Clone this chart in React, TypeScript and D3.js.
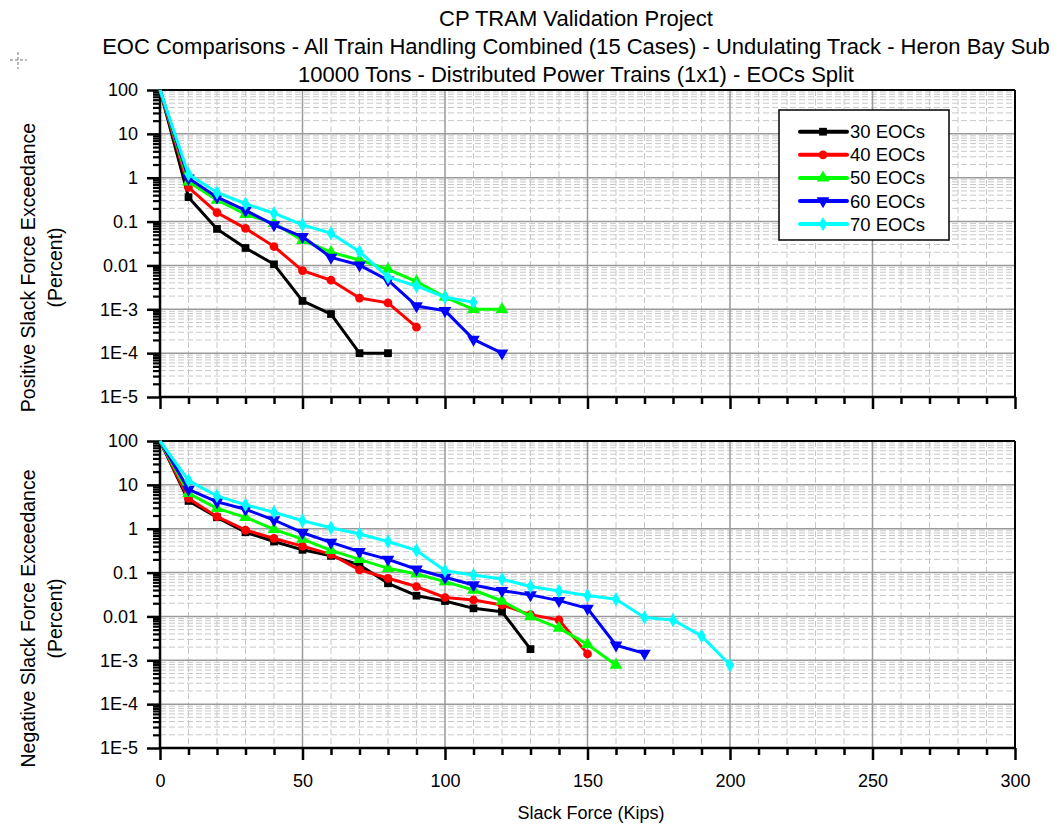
import * as d3 from "d3";
import React, { useRef, useEffect } from "react";

const width = 1059;
const height = 826;
const plotLeft = 160;
const plotRight = 1015;
const panels = [
  { top: 90, bottom: 397, label: "Positive Slack Force Exceedance" },
  { top: 441, bottom: 748, label: "Negative Slack Force Exceedance" },
];

const titleLines = [
  "CP TRAM Validation Project",
  "EOC Comparisons - All Train Handling Combined (15 Cases) - Undulating Track - Heron Bay Sub",
  "10000 Tons - Distributed Power Trains (1x1) - EOCs Split",
];

// slack force in kips, one value every 10 kips starting at 0
const kips = d3.range(0, 210, 10);

const seriesNames = ["30 EOCs", "40 EOCs", "50 EOCs", "60 EOCs", "70 EOCs"];
const seriesColors = ["#000000", "#ff0000", "#00ff00", "#0000ff", "#00ffff"];

// positive slack force exceedance (percent)
const pos30 = [100, 0.36, 0.068, 0.025, 0.0106, 0.00155, 0.00078, 0.0001, 0.0001];
const pos40 = [100, 0.6, 0.16, 0.07, 0.027, 0.0076, 0.0046, 0.0018, 0.0014, 0.00039];
const pos50 = [100, 0.81, 0.31, 0.147, 0.091, 0.0375, 0.02, 0.0133, 0.0081, 0.0043, 0.0019, 0.001, 0.001];
const pos60 = [100, 0.97, 0.36, 0.18, 0.084, 0.045, 0.0153, 0.0102, 0.0046, 0.00119, 0.00093, 0.000206, 0.0001];
const pos70 = [100, 1.2, 0.46, 0.255, 0.155, 0.084, 0.054, 0.0206, 0.0054, 0.0034, 0.00188, 0.00144];

// negative slack force exceedance (percent)
const neg30 = [100, 4.3, 1.82, 0.83, 0.51, 0.33, 0.24, 0.149, 0.057, 0.0297, 0.0225, 0.0153, 0.0128, 0.0018];
const neg40 = [100, 4.9, 1.88, 0.93, 0.6, 0.4, 0.26, 0.115, 0.074, 0.048, 0.027, 0.0237, 0.0182, 0.011, 0.0083, 0.0014];
const neg50 = [100, 6.4, 2.9, 1.82, 0.97, 0.58, 0.32, 0.2, 0.125, 0.093, 0.062, 0.04, 0.0225, 0.0099, 0.0054, 0.0023, 0.00078];
const neg60 = [100, 7.9, 4.1, 2.77, 1.58, 0.81, 0.49, 0.3, 0.2, 0.119, 0.078, 0.052, 0.0386, 0.031, 0.0229, 0.0153, 0.0022, 0.00144];
const neg70 = [100, 12.5, 5.6, 3.5, 2.37, 1.52, 1.05, 0.76, 0.51, 0.32, 0.11, 0.088, 0.071, 0.048, 0.038, 0.03, 0.0246, 0.0095, 0.0083, 0.0036, 0.00078];

const panelData = [
  [pos30, pos40, pos50, pos60, pos70],
  [neg30, neg40, neg50, neg60, neg70],
];

const yTicks = [100, 10, 1, 0.1, 0.01, 1e-3, 1e-4, 1e-5];
const yTickLabels = ["100", "10", "1", "0.1", "0.01", "1E-3", "1E-4", "1E-5"];
const xTicks = [0, 50, 100, 150, 200, 250, 300];

const fontFamily = "'Liberation Sans', Arial, sans-serif";

const symbolFor = (i) => {
  const types = [d3.symbolSquare, d3.symbolCircle, d3.symbolTriangle, d3.symbolTriangle, d3.symbolDiamond];
  const sizes = [60, 60, 70, 70, 60];
  return d3.symbol().type(types[i]).size(sizes[i])();
};
const symbolRotate = (i) => (i === 3 ? 180 : 0);

const x = d3.scaleLinear().domain([0, 300]).range([plotLeft, plotRight]);

const Panel = ({ index }) => {
  const p = panels[index];
  const y = d3.scaleLog().domain([1e-5, 100]).range([p.bottom, p.top]);
  const xAxisRef = useRef(null);
  const xMinorRef = useRef(null);
  const yAxisRef = useRef(null);
  const yMinorRef = useRef(null);

  const minorY = [];
  for (let e = -5; e < 2; e++) for (let m = 2; m <= 9; m++) minorY.push(m * Math.pow(10, e));
  const minorX = d3.range(10, 300, 10).filter((v) => v % 50 !== 0);

  useEffect(() => {
    const xAxis = d3.axisBottom(x).tickValues(xTicks).tickSize(12).tickFormat(index === 1 ? d3.format("d") : () => "");
    d3.select(xAxisRef.current)
      .call(xAxis)
      .call((g) => g.select(".domain").remove())
      .call((g) => g.selectAll("line").attr("stroke-width", 2.5))
      .call((g) =>
        g.selectAll("text").attr("font-size", 18).attr("font-family", fontFamily).attr("dy", "1.35em").attr("fill", "#000")
      );
    d3.select(xMinorRef.current)
      .call(d3.axisBottom(x).tickValues(minorX).tickSize(7).tickFormat(() => ""))
      .call((g) => g.select(".domain").remove())
      .call((g) => g.selectAll("line").attr("stroke-width", 2.5));
    const yAxis = d3
      .axisLeft(y)
      .tickValues(yTicks)
      .tickSize(13)
      .tickFormat((d, i) => yTickLabels[i]);
    d3.select(yAxisRef.current)
      .call(yAxis)
      .call((g) => g.select(".domain").remove())
      .call((g) => g.selectAll("line").attr("stroke-width", 2.5))
      .call((g) => g.selectAll("text").attr("font-size", 18).attr("font-family", fontFamily).attr("x", -22).attr("fill", "#000"));
    d3.select(yMinorRef.current)
      .call(d3.axisLeft(y).tickValues(minorY).tickSize(7).tickFormat(() => ""))
      .call((g) => g.select(".domain").remove())
      .call((g) => g.selectAll("line").attr("stroke-width", 2.2));
  }, [index]);

  const line = d3
    .line()
    .x((d) => x(d[0]))
    .y((d) => y(d[1]));

  return (
    <g>
      {/* minor grid */}
      {minorY.map((v) => (
        <line key={"my" + v} x1={plotLeft} x2={plotRight} y1={y(v)} y2={y(v)} stroke="#c8c8c8" strokeWidth={1} strokeDasharray="6,3" />
      ))}
      {minorX.map((v) => (
        <line key={"mx" + v} x1={x(v)} x2={x(v)} y1={p.top} y2={p.bottom} stroke="#c8c8c8" strokeWidth={1} strokeDasharray="6,3" />
      ))}
      {/* major grid */}
      {yTicks.slice(1, -1).map((v) => (
        <line key={"gy" + v} x1={plotLeft} x2={plotRight} y1={y(v)} y2={y(v)} stroke="#9a9a9a" strokeWidth={1.5} />
      ))}
      {xTicks.slice(1, -1).map((v) => (
        <line key={"gx" + v} x1={x(v)} x2={x(v)} y1={p.top} y2={p.bottom} stroke="#9a9a9a" strokeWidth={1.5} />
      ))}
      {/* frame */}
      <line x1={plotLeft} x2={plotRight} y1={p.top} y2={p.top} stroke="#000" strokeWidth={2} />
      <line x1={plotRight} x2={plotRight} y1={p.top} y2={p.bottom} stroke="#000" strokeWidth={2} />
      <line x1={plotLeft} x2={plotRight} y1={p.bottom} y2={p.bottom} stroke="#000" strokeWidth={2.5} />
      <line x1={plotLeft} x2={plotLeft} y1={p.top} y2={p.bottom} stroke="#000" strokeWidth={2.5} />
      <g ref={xMinorRef} transform={`translate(0, ${p.bottom})`} />
      <g ref={xAxisRef} transform={`translate(0, ${p.bottom})`} />
      <g ref={yMinorRef} transform={`translate(${plotLeft}, 0)`} />
      <g ref={yAxisRef} transform={`translate(${plotLeft}, 0)`} />
      {/* series */}
      {panelData[index].map((vals, si) => {
        const pts = vals.map((v, k) => [kips[k], v]);
        return (
          <g key={si}>
            <path d={line(pts)} fill="none" stroke={seriesColors[si]} strokeWidth={3} strokeLinejoin="round" />
            {pts.slice(1).map((d, k) => (
              <path
                key={k}
                d={symbolFor(si)}
                fill={seriesColors[si]}
                transform={`translate(${x(d[0])}, ${y(d[1])}) rotate(${symbolRotate(si)})`}
              />
            ))}
          </g>
        );
      })}
      {/* y axis title */}
      <g transform={`translate(28, ${(p.top + p.bottom) / 2 + 24}) rotate(-90)`}>
        <text textAnchor="middle" dominantBaseline="central" fontSize={19.5} fontFamily={fontFamily}>
          {p.label}
        </text>
        <text y={27} textAnchor="middle" dominantBaseline="central" fontSize={19.5} fontFamily={fontFamily}>
          (Percent)
        </text>
      </g>
    </g>
  );
};

const Legend = () => {
  const lx = 779;
  const ly = 110;
  return (
    <g>
      <rect x={lx} y={ly} width={170} height={130} fill="#fff" stroke="#000" strokeWidth={1.5} />
      {seriesNames.map((name, i) => {
        const cy = ly + 21.7 + i * 23.1;
        return (
          <g key={name}>
            <line x1={lx + 21} x2={lx + 68} y1={cy} y2={cy} stroke={seriesColors[i]} strokeWidth={4} strokeLinecap="round" />
            <path d={symbolFor(i)} fill={seriesColors[i]} transform={`translate(${lx + 44}, ${cy}) rotate(${symbolRotate(i)})`} />
            <text x={lx + 71} y={cy} dominantBaseline="central" fontSize={18.5} fontFamily={fontFamily}>
              {name}
            </text>
          </g>
        );
      })}
    </g>
  );
};

export default function App() {
  return (
    <svg width={width} height={height} style={{ position: "absolute", left: 0, top: 0, background: "#fff" }}>
      <rect width={width} height={height} fill="#fff" />
      {titleLines.map((t, i) => (
        <text key={i} x={576} y={26 + i * 28} textAnchor="middle" fontSize={22} fontFamily={fontFamily}>
          {t}
        </text>
      ))}
      {/* small crosshair mark */}
      <line x1={18} x2={18} y1={52} y2={69} stroke="#777" strokeDasharray="3,2" />
      <line x1={10} x2={27} y1={60} y2={60} stroke="#777" strokeDasharray="3,2" />
      <Panel index={0} />
      <Panel index={1} />
      <Legend />
      <text x={591} y={819} textAnchor="middle" fontSize={18} fontFamily={fontFamily}>
        Slack Force (Kips)
      </text>
    </svg>
  );
}
